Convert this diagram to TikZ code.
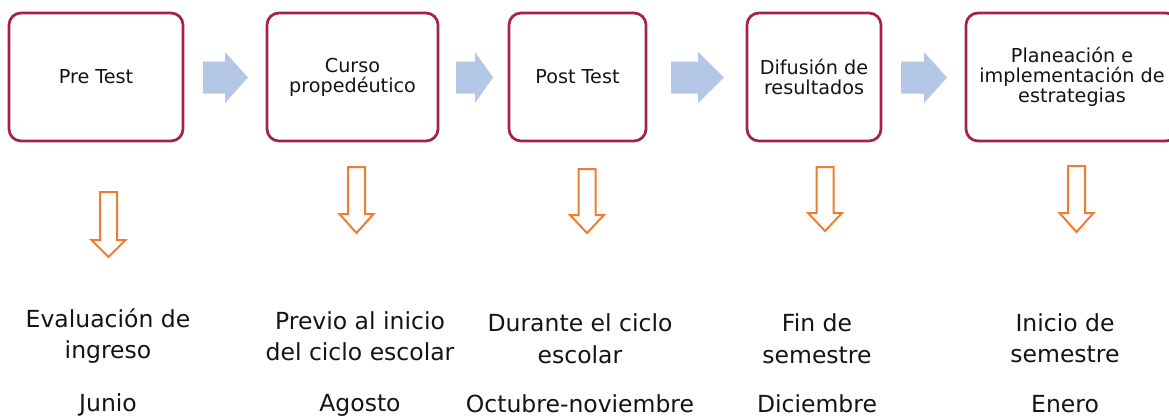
\documentclass[tikz,border=0pt]{standalone}
\usepackage{fontspec}
\setmainfont{DejaVu Sans}
\definecolor{boxred}{RGB}{162,34,76}
\definecolor{flowblue}{RGB}{180,199,231}
\definecolor{downorange}{RGB}{237,125,49}
\definecolor{txt}{RGB}{20,20,20}
\newcommand{\blockarrow}[3]{%
  \fill[flowblue] (#1,61.5)--(#2,61.5)--(#2,52)--(#3,77.5)--(#2,103)--(#2,93.5)--(#1,93.5)--cycle;}
\newcommand{\orangedown}[4]{%
  \draw[downorange,line width=2pt,fill=white,line join=miter]
    ({#1-8.5},#2)--({#1+8.5},#2)--({#1+8.5},#3)--({#1+17},#3)--(#1,#4)--({#1-17},#3)--({#1-8.5},#3)--cycle;}
\begin{document}
\begin{tikzpicture}[x=1pt,y=-1pt,
  stepbox/.style={draw=boxred, line width=2.7pt, rounded corners=12pt, fill=white,
    inner sep=0pt, align=center, text=txt, minimum height=128pt,
    font=\fontsize{19.2}{20}\selectfont},
  when/.style={anchor=base, align=center, text=txt, inner sep=0pt,
    font=\fontsize{23.5}{31.5}\selectfont}]
\useasboundingbox (0,0) rectangle (1169,416);
\clip (0,0) rectangle (1169,416);
\fill[white] (0,0) rectangle (1169,416);
% step boxes
\node[stepbox, minimum width=174pt] (b1) at (96,77) {Pre Test};
\node[stepbox, minimum width=171pt] (b2) at (352.5,77) {Curso\\propedéutico};
\node[stepbox, minimum width=137pt] (b3) at (577.5,77) {Post Test};
\node[stepbox, minimum width=134pt] (b4) at (814,77) {Difusión de\\resultados};
\node[stepbox, minimum width=212pt] (b5) at (1072,77) {Planeación e\\implementación de\\estrategias};
% block arrows between boxes
\blockarrow{203}{225}{248}
\blockarrow{456}{475}{493}
\blockarrow{671}{698}{724}
\blockarrow{901}{924}{947}
% orange down arrows
\orangedown{108.5}{192}{240}{257}
\orangedown{356.5}{167}{214}{233}
\orangedown{587}{169}{215}{233}
\orangedown{825}{167}{213}{231}
\orangedown{1076.5}{166}{213}{232}
% timing texts (base = last line)
\node[when] (w1) at (108,358.5) {Evaluación de\\ingreso};
\node[when] (w2) at (360,360.5) {Previo al inicio\\del ciclo escolar};
\node[when] (w3) at (580,363) {Durante el ciclo\\escolar};
\node[when] (w4) at (817,363) {Fin de\\semestre};
\node[when] (w5) at (1065,362.5) {Inicio de\\semestre};
\node[when] (m1) at (108,411) {Junio};
\node[when] (m2) at (360,411) {Agosto};
\node[when] (m3) at (580,412) {Octubre-noviembre};
\node[when] (m4) at (817,412) {Diciembre};
\node[when] (m5) at (1065,412) {Enero};
\end{tikzpicture}
\end{document}
